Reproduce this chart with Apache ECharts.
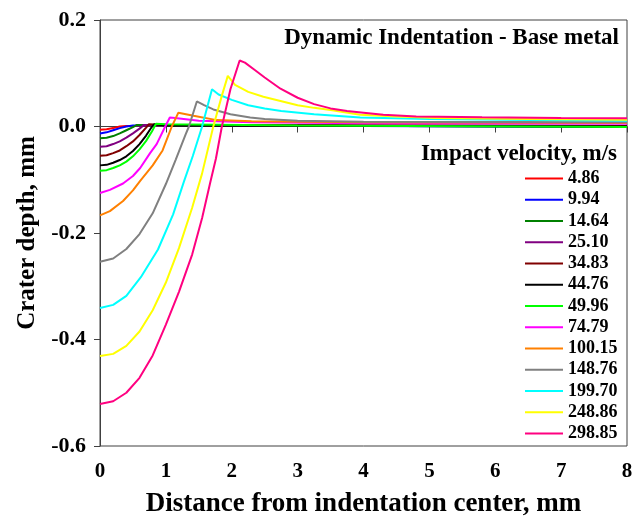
<!DOCTYPE html>
<html>
<head>
<meta charset="utf-8">
<script src="https://cdn.jsdelivr.net/npm/echarts@6/dist/echarts.min.js"></script>
<style>
  html, body { margin: 0; padding: 0; background: #fff; }
  #chart { width: 643px; height: 519px; }
</style>
</head>
<body>
<div id="chart"></div>
<script>
// impact velocities (legend labels)
const velocities = ['4.86', '9.94', '14.64', '25.10', '34.83', '44.76', '49.96',
  '74.79', '100.15', '148.76', '199.70', '248.86', '298.85'];
const colors = ['#ff0000', '#0000ff', '#008000', '#800080', '#800000', '#000000', '#00ff00',
  '#ff00ff', '#ff8000', '#808080', '#00ffff', '#ffff00', '#ff0080'];

// distance from center (mm) / crater depth (mm)
const dist_486 = [0, 0.1, 0.2, 0.3, 0.4, 1.0, 3.0, 8.0];
const depth_486 = [-0.006, -0.005, -0.003, 0.000, 0.001, 0.001, 0.001, 0.001];

const dist_994 = [0, 0.1, 0.2, 0.3, 0.4, 0.5, 1.0, 4.0, 8.0];
const depth_994 = [-0.013, -0.011, -0.007, -0.003, 0.000, 0.002, 0.002, 0.001, -0.001];

const dist_1464 = [0, 0.1, 0.2, 0.3, 0.4, 0.5, 0.56, 1.0, 8.0];
const depth_1464 = [-0.022, -0.021, -0.018, -0.013, -0.007, -0.001, 0.003, 0.002, 0.000];

const dist_2510 = [0, 0.1, 0.2, 0.3, 0.4, 0.5, 0.6, 0.67, 1.0, 8.0];
const depth_2510 = [-0.038, -0.037, -0.033, -0.028, -0.021, -0.013, -0.004, 0.003, 0.003, 0.001];

const dist_3483 = [0, 0.1, 0.2, 0.3, 0.4, 0.5, 0.6, 0.7, 0.74, 1.0, 8.0];
const depth_3483 = [-0.055, -0.054, -0.050, -0.045, -0.037, -0.028, -0.016, -0.002, 0.004, 0.003, 0.001];

const dist_4476 = [0, 0.1, 0.2, 0.3, 0.4, 0.5, 0.6, 0.7, 0.78, 0.82, 1.0, 8.0];
const depth_4476 = [-0.073, -0.072, -0.068, -0.063, -0.056, -0.046, -0.033, -0.017, -0.002, 0.004, 0.002, 0.000];

const dist_4996 = [0, 0.1, 0.2, 0.3, 0.4, 0.5, 0.6, 0.7, 0.79, 0.85, 1.0, 3.0, 8.0];
const depth_4996 = [-0.083, -0.082, -0.078, -0.073, -0.066, -0.056, -0.043, -0.027, -0.009, 0.005, 0.004, 0.002, -0.001];

const dist_7479 = [0, 0.15, 0.35, 0.5, 0.61, 0.76, 0.86, 0.99, 1.06, 1.14, 1.5, 2.3, 4.0, 8.0];
const depth_7479 = [-0.125, -0.119, -0.107, -0.093, -0.078, -0.050, -0.033, 0.000, 0.017, 0.016, 0.011, 0.008, 0.006, 0.005];

const dist_10015 = [0, 0.15, 0.35, 0.5, 0.61, 0.8, 0.95, 1.09, 1.19, 1.42, 1.77, 2.3, 4.0, 8.0];
const depth_10015 = [-0.167, -0.159, -0.140, -0.120, -0.102, -0.073, -0.045, 0.000, 0.026, 0.020, 0.012, 0.010, 0.008, 0.007];

const dist_14876 = [0, 0.2, 0.4, 0.6, 0.8, 1.0, 1.15, 1.3, 1.35, 1.47, 1.58, 1.72, 1.98, 2.28, 2.5, 3.0, 4.0, 8.0];
const depth_14876 = [-0.254, -0.248, -0.230, -0.202, -0.163, -0.108, -0.062, -0.015, 0.000, 0.047, 0.040, 0.032, 0.023, 0.017, 0.014, 0.011, 0.009, 0.008];

const dist_19970 = [0, 0.2, 0.4, 0.62, 0.88, 1.11, 1.27, 1.41, 1.55, 1.70, 1.80, 2.0, 2.25, 2.5, 2.75, 3.25, 3.95, 5.0, 6.5, 8.0];
const depth_19970 = [-0.341, -0.335, -0.318, -0.283, -0.231, -0.165, -0.105, -0.055, 0.000, 0.070, 0.060, 0.050, 0.040, 0.034, 0.029, 0.023, 0.017, 0.014, 0.012, 0.011];

const dist_24886 = [0, 0.2, 0.4, 0.6, 0.8, 1.0, 1.2, 1.4, 1.55, 1.72, 1.85, 1.94, 2.05, 2.25, 2.48, 2.74, 3.0, 3.25, 3.5, 3.95, 4.5, 5.1, 6.5, 8.0];
const depth_24886 = [-0.431, -0.427, -0.412, -0.385, -0.345, -0.293, -0.228, -0.152, -0.088, 0.000, 0.058, 0.095, 0.078, 0.065, 0.056, 0.048, 0.040, 0.035, 0.031, 0.022, 0.019, 0.016, 0.014, 0.0125];

const dist_29885 = [0, 0.2, 0.4, 0.6, 0.8, 1.0, 1.2, 1.4, 1.55, 1.67, 1.76, 1.85, 1.98, 2.12, 2.2, 2.35, 2.5, 2.74, 3.0, 3.25, 3.5, 3.75, 4.0, 4.3, 4.8, 5.8, 7.0, 8.0];
const depth_29885 = [-0.521, -0.516, -0.500, -0.472, -0.430, -0.372, -0.310, -0.240, -0.172, -0.107, -0.060, 0.000, 0.070, 0.124, 0.120, 0.106, 0.092, 0.071, 0.054, 0.042, 0.034, 0.029, 0.026, 0.022, 0.019, 0.0175, 0.016, 0.0155];

const dists = [dist_486, dist_994, dist_1464, dist_2510, dist_3483, dist_4476, dist_4996,
  dist_7479, dist_10015, dist_14876, dist_19970, dist_24886, dist_29885];
const depths = [depth_486, depth_994, depth_1464, depth_2510, depth_3483, depth_4476, depth_4996,
  depth_7479, depth_10015, depth_14876, depth_19970, depth_24886, depth_29885];

const font = 'Liberation Serif';
const axisColor = '#404040';

const chart = echarts.init(document.getElementById('chart'));

const series = velocities.map((v, i) => ({
  name: v,
  type: 'line',
  data: dists[i].map((x, j) => [x, depths[i][j]]),
  showSymbol: false,
  symbol: 'none',
  lineStyle: { color: colors[i], width: 2 },
  itemStyle: { color: colors[i] },
  animation: false
}));

const option = {
  animation: false,
  title: [{
    text: 'Dynamic Indentation - Base metal',
    right: 24,
    top: 27,
    padding: 0,
    textStyle: { fontFamily: font, fontWeight: 'bold', fontSize: 23, color: '#000' }
  }, {
    text: 'Impact velocity, m/s',
    right: 26,
    top: 143,
    padding: 0,
    textStyle: { fontFamily: font, fontWeight: 'bold', fontSize: 23, color: '#000' }
  }],
  legend: {
    orient: 'vertical',
    left: 525,
    top: 169.5,
    padding: 0,
    itemWidth: 38,
    itemHeight: 2,
    itemGap: 3.25,
    icon: 'rect',
    data: velocities,
    textStyle: { fontFamily: font, fontWeight: 'bold', fontSize: 18, lineHeight: 18, color: '#000' }
  },
  grid: {
    left: 100,
    right: 16,
    top: 20,
    bottom: 73,
    outerBoundsMode: 'none',
    show: true,
    borderColor: axisColor,
    borderWidth: 1
  },
  xAxis: {
    type: 'value',
    min: 0,
    max: 8,
    interval: 1,
    name: 'Distance from indentation center, mm',
    nameLocation: 'middle',
    nameGap: 45,
    nameTextStyle: { fontFamily: font, fontWeight: 'bold', fontSize: 27, color: '#000' },
    splitLine: { show: false },
    axisLine: { lineStyle: { color: axisColor, width: 1 } },
    axisTick: { inside: false, length: 6, lineStyle: { color: axisColor } },
    axisLabel: { fontFamily: font, fontWeight: 'bold', fontSize: 21, color: '#000', margin: 15 }
  },
  yAxis: {
    type: 'value',
    min: -0.6,
    max: 0.2,
    interval: 0.2,
    name: 'Crater depth, mm',
    nameLocation: 'middle',
    nameGap: 59,
    nameTextStyle: { fontFamily: font, fontWeight: 'bold', fontSize: 25, color: '#000' },
    splitLine: { show: false },
    axisLine: { show: true, lineStyle: { color: axisColor, width: 1 } },
    axisTick: { show: true, inside: false, length: 6, lineStyle: { color: axisColor } },
    axisLabel: {
      fontFamily: font, fontWeight: 'bold', fontSize: 22, color: '#000', margin: 14,
      formatter: v => v.toFixed(1)
    }
  },
  series: series
};

chart.setOption(option);
</script>
</body>
</html>
